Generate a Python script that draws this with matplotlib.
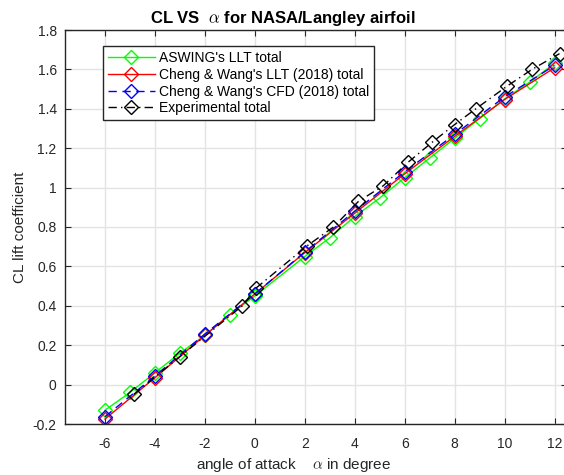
import matplotlib.pyplot as plt

plt.rcParams['font.family'] = ['Liberation Sans', 'DejaVu Sans']
plt.rcParams['mathtext.fontset'] = 'cm'

# ASWING lifting line results
aswing_alpha = [-6, -5, -4, -3, -2, -1, 0, 2, 3, 4, 5, 6, 7, 8, 9, 10, 11, 12]
aswing_cl = [-0.13, -0.04, 0.06, 0.16, 0.25, 0.355, 0.45, 0.65, 0.745, 0.853,
             0.947, 1.05, 1.15, 1.25, 1.35, 1.45, 1.535, 1.63]

# Cheng & Wang (2018)
cw_alpha = [-6, -4, -2, 0, 2, 4, 6, 8, 10, 12]
cw_llt_cl = [-0.175, 0.035, 0.25, 0.46, 0.67, 0.87, 1.07, 1.26, 1.447, 1.608]
cw_cfd_cl = [-0.163, 0.044, 0.257, 0.46, 0.673, 0.88, 1.08, 1.27, 1.46, 1.62]

# wind tunnel data
exp_alpha = [-4.85, -3.0, -0.5, 0.05, 2.1, 3.15, 4.15, 5.15, 6.15, 7.1, 8.0,
             8.85, 10.1, 11.1, 12.2]
exp_cl = [-0.05, 0.142, 0.40, 0.49, 0.705, 0.80, 0.93, 1.01, 1.13, 1.23, 1.32,
          1.40, 1.515, 1.60, 1.68]

xticks = [-6, -4, -2, 0, 2, 4, 6, 8, 10, 12]
yticks = [-0.2, 0, 0.2, 0.4, 0.6, 0.8, 1, 1.2, 1.4, 1.6, 1.8]
ytick_labels = ['-0.2', '0', '0.2', '0.4', '0.6', '0.8', '1', '1.2', '1.4', '1.6', '1.8']

fig = plt.figure(figsize=(5.64, 4.75), dpi=100)
ax = fig.add_axes([65 / 564, 51 / 475, 502 / 564, 394 / 475])

mk = dict(marker='D', markersize=7, markerfacecolor='none', markeredgewidth=1.0)
ax.plot(aswing_alpha, aswing_cl, color='#00ff00', lw=1.0, label="ASWING's LLT total", **mk)
ax.plot(cw_alpha, cw_llt_cl, color='#ff0000', lw=1.0, label="Cheng & Wang's LLT (2018) total", **mk)
ax.plot(cw_alpha, cw_cfd_cl, color='#0000ff', lw=1.0, ls=(0, (6, 4)),
        label="Cheng & Wang's CFD (2018) total", **mk)
ax.plot(exp_alpha, exp_cl, color='black', lw=1.0, ls=(0, (6, 3, 1, 3)),
        label='Experimental total', **mk)

ax.set_xlim(-7.6, 12.5)
ax.set_ylim(-0.2, 1.8)
ax.set_xticks(xticks)
ax.set_xticklabels([str(t) for t in xticks])
ax.set_yticks(yticks)
ax.set_yticklabels(ytick_labels)

ax.grid(True, color='#e3e3e3', lw=1.0)
ax.set_axisbelow(True)
for s in ax.spines.values():
    s.set_color('#262626')
    s.set_linewidth(1.0)
ax.tick_params(direction='in', length=4, top=True, right=True, colors='#262626',
               labelsize=10, labelcolor='#262626')
ax.tick_params(axis='x', pad=9)
ax.tick_params(axis='y', pad=6)

ax.set_title(r'CL VS  $\alpha$ for NASA/Langley airfoil', fontsize=12,
             fontweight='bold', pad=5, x=0.434)
ax.set_xlabel(r'angle of attack    $\alpha$ in degree', fontsize=11, color='#262626',
              labelpad=4, x=0.456)
ax.set_ylabel('CL lift coefficient', fontsize=11, color='#262626', labelpad=4)

leg = ax.legend(loc='upper left', bbox_to_anchor=(0.0757, 0.959), borderaxespad=0,
                fontsize=10, frameon=True, fancybox=False, handlelength=3.4,
                labelspacing=0.2, borderpad=0.35, handletextpad=0.3)
leg.get_frame().set_edgecolor('#262626')
leg.get_frame().set_linewidth(1.0)
leg.get_frame().set_alpha(1)

fig.savefig('out.png', dpi=100)
